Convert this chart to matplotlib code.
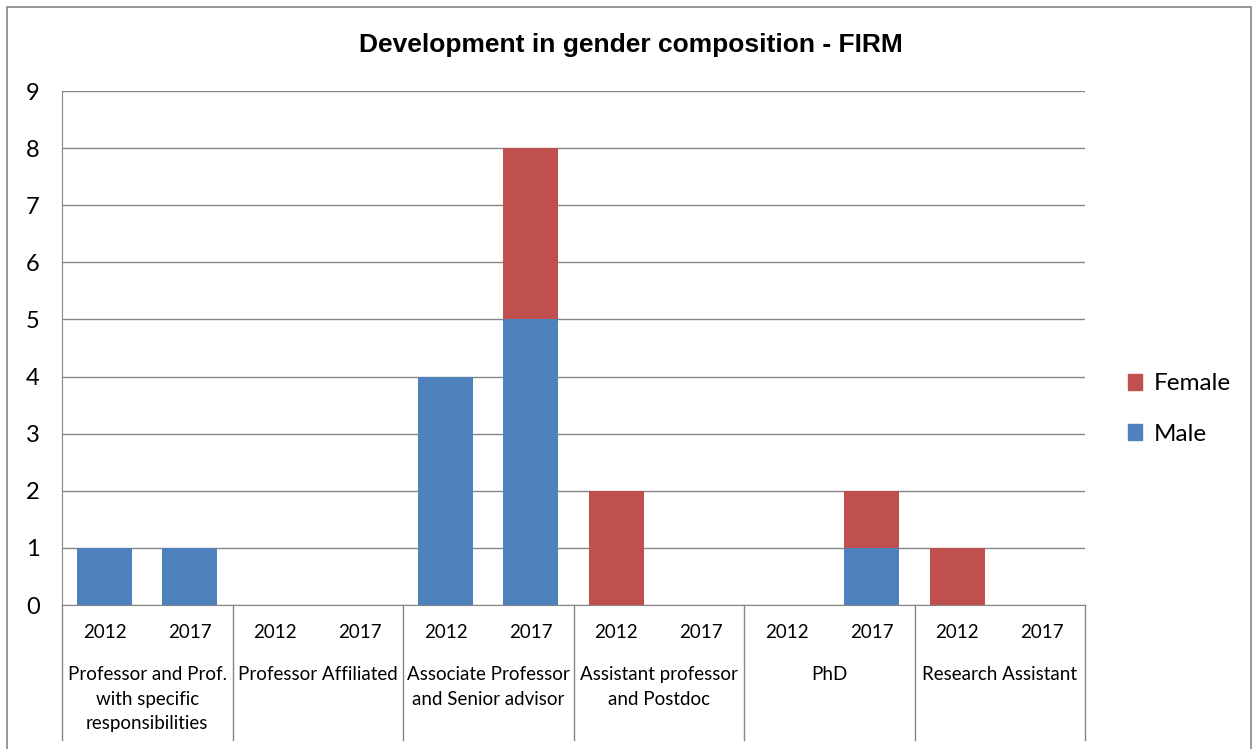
import matplotlib
matplotlib.use("Agg")
import matplotlib.pyplot as plt
from matplotlib.patches import Patch, Rectangle
from matplotlib.lines import Line2D
import matplotlib.transforms as mtransforms

# data
groups = ["Professor and Prof.\nwith specific\nresponsibilities", "Professor Affiliated",
          "Associate Professor\nand Senior advisor", "Assistant professor\nand Postdoc",
          "PhD", "Research Assistant"]
years = ["2012", "2017"]
male   = [1, 1, 0, 0, 4, 5, 0, 0, 0, 1, 0, 0]
female = [0, 0, 0, 0, 0, 3, 2, 0, 0, 1, 1, 0]

BLUE, RED, GRID = "#4F81BD", "#C0504D", "#868686"

plt.rcParams["font.family"] = ["Lato", "DejaVu Sans"]

W, H = 1253, 749
fig = plt.figure(figsize=(W/100, H/100), dpi=100)
ax = fig.add_axes([62/W, 1-605/H, (1085-62)/W, (605-91)/H])

x = list(range(len(male)))
ax.bar(x, male, width=0.645, color=BLUE, zorder=3)
ax.bar(x, female, width=0.645, bottom=male, color=RED, zorder=3)

ax.set_xlim(-0.5, len(male)-0.5)
ax.set_ylim(0, 9)
ax.set_yticks(range(10))
ax.tick_params(axis="y", length=0, pad=16, labelsize=17)
ax.set_xticks([])
ax.grid(axis="y", color=GRID, lw=1, zorder=0)
for s in ["top", "right"]:
    ax.spines[s].set_visible(False)
ax.spines["left"].set_color(GRID)
ax.spines["bottom"].set_color(GRID)

# multi-level category axis
tr = mtransforms.blended_transform_factory(ax.transData, ax.transAxes)
px = 1/(605-91)
for i in range(len(male)):
    ax.text(i, -27*px, years[i % 2], transform=tr, ha="center", va="center", fontsize=13.5)
for g, name in enumerate(groups):
    ax.text(2*g+0.5, -61*px, name, transform=tr, ha="center", va="top",
            fontsize=13.5, linespacing=1.55)
for b in range(len(groups)+1):
    ax.add_line(Line2D([2*b-0.5, 2*b-0.5], [0, -135*px], transform=tr,
                       color=GRID, lw=1, clip_on=False))

fig.text(631/W, 1-45/H, "Development in gender composition - FIRM", ha="center", va="center",
         fontsize=19, fontweight="bold", family="Liberation Sans")

handles = [Patch(color=RED), Patch(color=BLUE)]
fig.legend(handles, ["Female", "Male"], loc="center left", bbox_to_anchor=(1106/W, 1-409/H),
           frameon=False, fontsize=17.5, handlelength=0.6, handleheight=0.6,
           handletextpad=0.45, labelspacing=1.2)

fig.add_artist(Rectangle((7/W, -0.02), (1251-7)/W, 1-7/H+0.02, transform=fig.transFigure,
                         fill=False, edgecolor=GRID, lw=1.2))

fig.savefig("out.png", dpi=100)
